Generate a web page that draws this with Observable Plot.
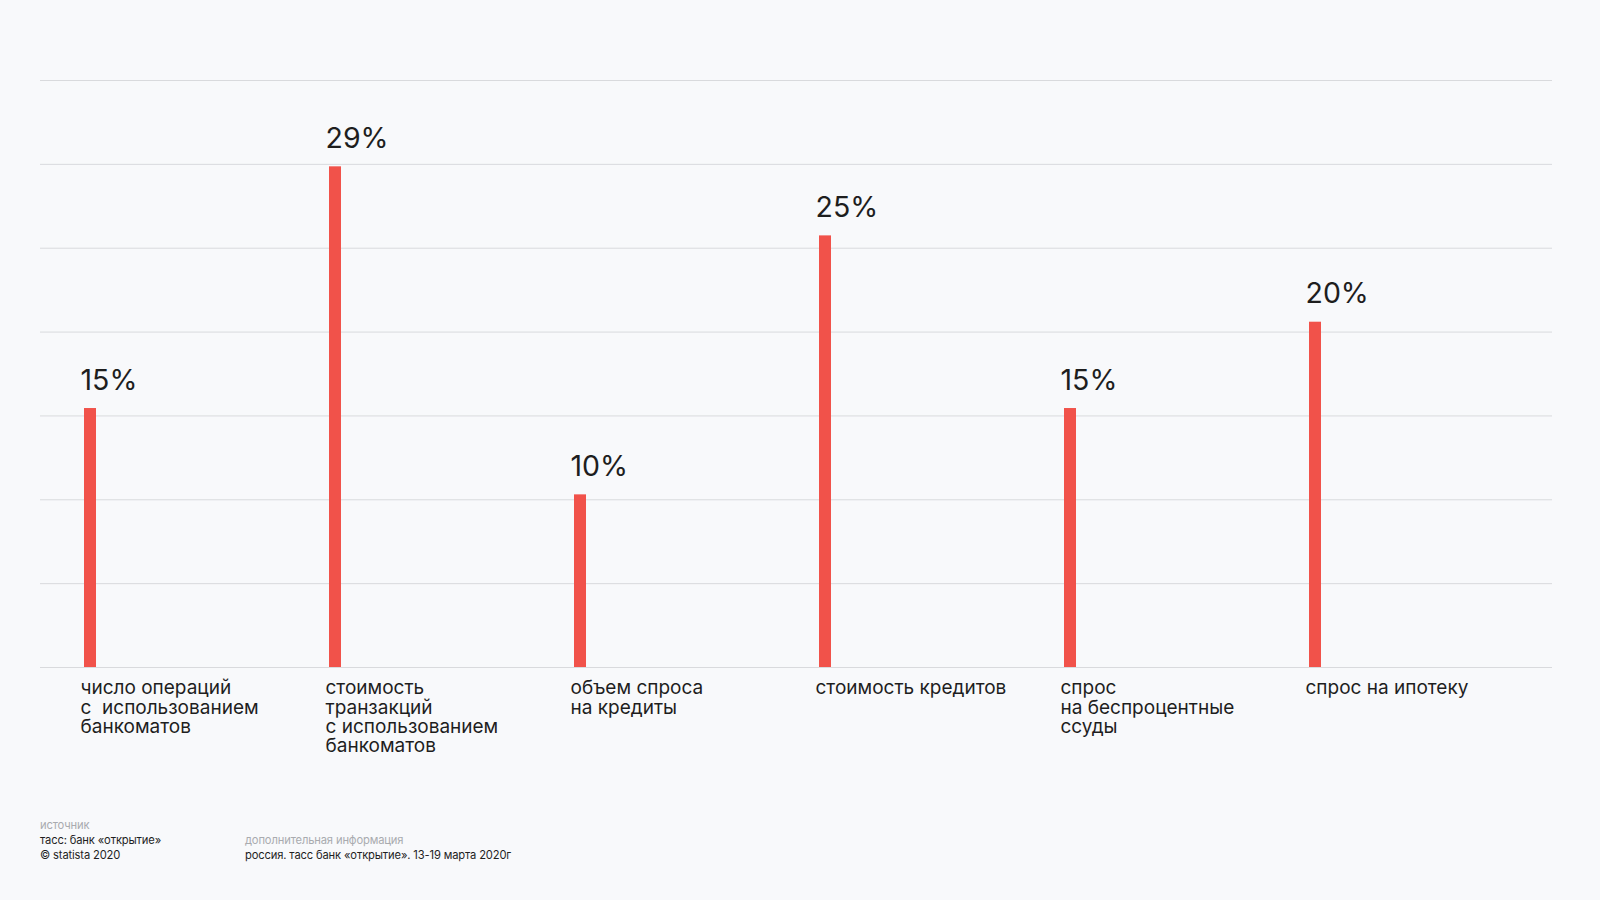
<!DOCTYPE html>
<html>
<head>
<meta charset="utf-8">
<script src="https://cdn.jsdelivr.net/npm/d3@7"></script>
<script src="https://cdn.jsdelivr.net/npm/@observablehq/plot@0.6"></script>
<style>
  html, body { margin: 0; padding: 0; background: #f8f9fb; }
  body { width: 1600px; height: 900px; position: relative; overflow: hidden; font-family: Inter, "Noto Sans", sans-serif; }
  #chart { position: absolute; left: 0; top: 0; }
  .foot { position: absolute; font-size: 11.2px; line-height: 15px; color: #1f1f1f; letter-spacing: -0.15px; }
  .foot .lbl { color: #a9abaf; }
</style>
</head>
<body>
<div id="chart"></div>
<div class="foot" style="left:40px; top:818px;">
  <div class="lbl">источник</div>
  <div>тасс: банк «открытие»</div>
  <div>© statista 2020</div>
</div>
<div class="foot" style="left:245px; top:833px;">
  <div class="lbl">дополнительная информация</div>
  <div>россия. тасс банк «открытие». 13-19 марта 2020г</div>
</div>
<script>
const categories = [
  "число операций\nс  использованием\nбанкоматов",
  "стоимость\nтранзакций\nс использованием\nбанкоматов",
  "объем спроса\nна кредиты",
  "стоимость кредитов",
  "спрос\nна беспроцентные\nссуды",
  "спрос на ипотеку"
];
const values = [15, 29, 10, 25, 15, 20];
const valueLabels = ["15%", "29%", "10%", "25%", "15%", "20%"];
const yMax = 34;
const gridCount = 7;

const data = categories.map((c, i) => ({cat: c, value: values[i], label: valueLabels[i]}));
const gridTicks = d3.range(gridCount + 1).map(i => i * yMax / gridCount);

const step = 245;
const chart = Plot.plot({
  width: 1600,
  height: 780,
  marginLeft: 40,
  marginRight: 48,
  marginTop: 80,
  marginBottom: 113,
  style: {background: "transparent", fontFamily: "Inter, 'Noto Sans', sans-serif", overflow: "visible"},
  x: {type: "band", domain: categories, range: [80, 80 + step * categories.length], padding: 0, axis: null},
  y: {domain: [0, yMax], axis: null},
  marks: [
    Plot.ruleY(gridTicks, {stroke: "#d9dadd", strokeWidth: 1}),
    Plot.barY(data, {x: "cat", y: "value", fill: "#f1524a", insetLeft: 4, insetRight: step - 16}),
    Plot.text(data, {x: "cat", y: "value", text: "label", textAnchor: "start", lineAnchor: "bottom",
      dx: -step / 2, dy: -19, fontSize: 28.5, fill: "#1e1e1e", letterSpacing: "-0.3px"}),
    Plot.text(data, {x: "cat", y: () => 0, text: "cat", textAnchor: "start", lineAnchor: "top",
      dx: -step / 2, dy: 13, fontSize: 19, lineHeight: 1.02, fill: "#1e1e1e", letterSpacing: "-0.3px"})
  ]
});
document.getElementById("chart").appendChild(chart);
</script>
</body>
</html>
